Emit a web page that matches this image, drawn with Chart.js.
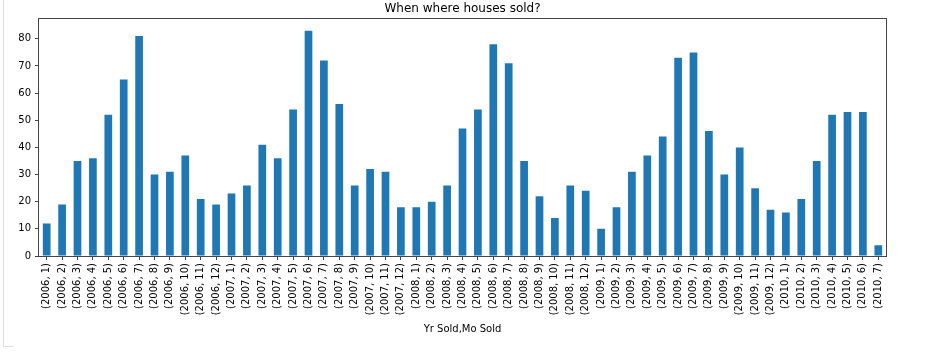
<!DOCTYPE html>
<html>
<head>
<meta charset="utf-8">
<script src="https://cdn.jsdelivr.net/npm/chart.js@4/dist/chart.umd.min.js"></script>
<style>
  html, body { margin: 0; padding: 0; background: #fff; }
  #wrap { position: relative; width: 936px; height: 358px; }
  #frame { position: absolute; left: 3px; top: 0; width: 10px; height: 346px; border-left: 1px solid #e0e0e0; border-bottom: 1px solid #e0e0e0; border-bottom-left-radius: 2px; }
  canvas { position: absolute; left: 0; top: 0; }
</style>
</head>
<body>
<div id="wrap">
  <div id="frame"></div>
  <canvas id="c" width="936" height="358"></canvas>
</div>
<script>
const years = [2006, 2007, 2008, 2009, 2010];
const monthsPerYear = [12, 12, 12, 12, 7];
const sales2006 = [12, 19, 35, 36, 52, 65, 81, 30, 31, 37, 21, 19];
const sales2007 = [23, 26, 41, 36, 54, 83, 72, 56, 26, 32, 31, 18];
const sales2008 = [18, 20, 26, 47, 54, 78, 71, 35, 22, 14, 26, 24];
const sales2009 = [10, 18, 31, 37, 44, 73, 75, 46, 30, 40, 25, 17];
const sales2010 = [16, 21, 35, 52, 53, 53, 4];
const titleText = 'When where houses sold?';
const xTitle = 'Yr Sold,Mo Sold';
const yMax = 87.15;

const labels = [];
years.forEach((y, i) => {
  for (let m = 1; m <= monthsPerYear[i]; m++) labels.push('(' + y + ', ' + m + ')');
});
const values = [].concat(sales2006, sales2007, sales2008, sales2009, sales2010);

const FONT = 'DejaVu Sans';

const framePlugin = {
  id: 'frame',
  afterDraw(chart) {
    const a = chart.chartArea, ctx = chart.ctx;
    ctx.save();
    ctx.strokeStyle = '#444';
    ctx.lineWidth = 1;
    ctx.strokeRect(Math.round(a.left) - 0.5, Math.round(a.top) - 0.5, Math.round(a.right - a.left) + 1, Math.round(a.bottom - a.top) + 1);
    ctx.restore();
  }
};

new Chart(document.getElementById('c'), {
  type: 'bar',
  data: {
    labels: labels,
    datasets: [{
      data: values,
      backgroundColor: '#1f77b4',
      borderWidth: 0,
      barPercentage: 0.5,
      categoryPercentage: 1.0
    }]
  },
  options: {
    responsive: false,
    animation: false,
    devicePixelRatio: 1,
    layout: { padding: { left: 0, right: 50, top: 0, bottom: 0 } },
    plugins: {
      legend: { display: false },
      tooltip: { enabled: false },
      title: {
        display: true,
        text: titleText,
        fullSize: false,
        color: '#000',
        font: { family: FONT, size: 12, weight: 'normal', lineHeight: 1.2 },
        padding: { top: 2, bottom: 3 }
      }
    },
    scales: {
      x: {
        offset: true,
        grid: { display: true, drawOnChartArea: false, drawTicks: true, tickLength: 4, color: '#444', offset: false },
        border: { display: false },
        ticks: {
          autoSkip: false, maxRotation: 90, minRotation: 90, padding: 3,
          color: '#000', font: { family: FONT, size: 10 }
        },
        title: {
          display: true, text: xTitle, color: '#000',
          font: { family: FONT, size: 10, lineHeight: 1.2 },
          padding: { top: 0, bottom: 23 }
        },
        afterFit(scale) { scale.height = 102; }
      },
      y: {
        min: 0,
        max: yMax,
        grid: { display: true, drawOnChartArea: false, drawTicks: true, tickLength: 4, color: '#444' },
        border: { display: false },
        ticks: {
          stepSize: 10, includeBounds: false, padding: 4,
          color: '#000', font: { family: FONT, size: 10 }
        },
        afterFit(scale) { scale.width = 39; }
      }
    }
  },
  plugins: [framePlugin]
});
</script>
</body>
</html>
